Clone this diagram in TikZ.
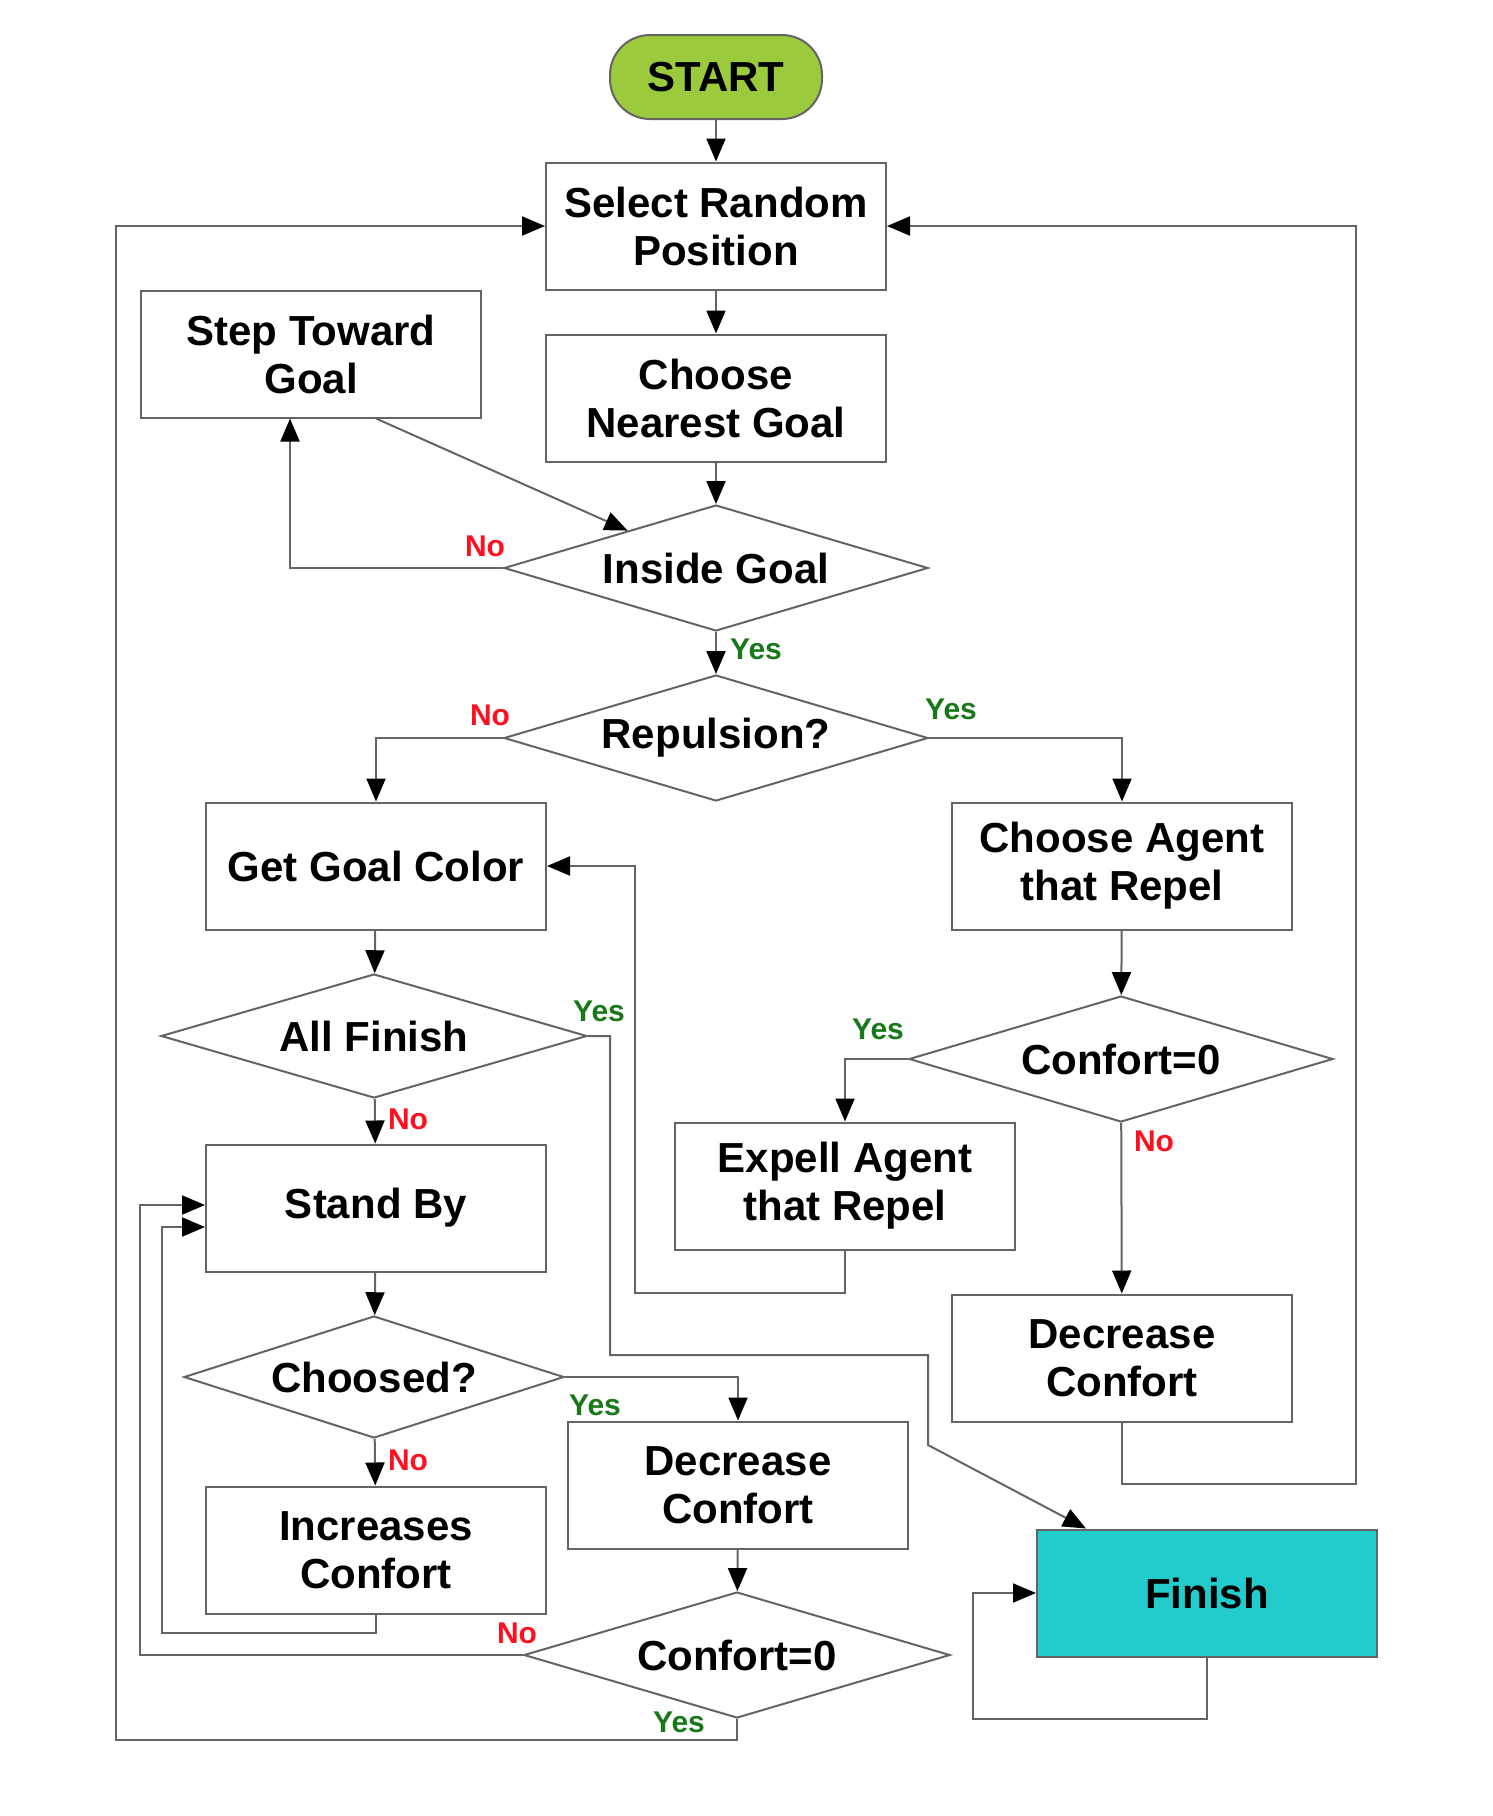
\documentclass[tikz,border=0pt]{standalone}
\usepackage{fontspec}
\setmainfont{Liberation Sans}
\usetikzlibrary{shapes.geometric,arrows.meta,calc}
\definecolor{linegray}{RGB}{100,100,100}
\definecolor{startgreen}{RGB}{155,203,60}
\definecolor{finishcyan}{RGB}{34,204,204}
\definecolor{yesgreen}{RGB}{25,120,25}
\definecolor{nored}{RGB}{255,16,32}
\begin{document}
\begin{tikzpicture}[x=1pt,y=-1pt,
  line width=2pt,
  txt/.style={font=\fontsize{42}{48}\selectfont\bfseries, align=center},
  box/.style={txt, draw=linegray, fill=white, minimum width=340pt, minimum height=127pt, inner sep=0pt},
  dia/.style={txt, draw=linegray, fill=white, diamond, aspect=3.37, inner sep=0pt},
  conn/.style={draw=linegray, -{Triangle[length=23pt,width=19pt,color=black]}},
  yeslbl/.style={text=yesgreen, font=\fontsize{30}{30}\selectfont\bfseries, inner sep=0pt},
  nolbl/.style={text=nored, font=\fontsize{30}{30}\selectfont\bfseries, inner sep=0pt}]
\useasboundingbox (0,0) rectangle (1492,1816);

% nodes
\node[txt, draw=linegray, fill=startgreen, rounded corners=40pt, minimum width=212pt, minimum height=84pt, inner sep=0pt] (start) at (716,77) {START};
\node[box] (sel) at (716,226) {Select Random\\Position};
\node[box] (cng) at (716,398) {Choose\\Nearest Goal};
\node[box] (step) at (311,354) {Step Toward\\Goal};
\node[dia, minimum width=424pt, minimum height=126pt] (inside) at (716,568) {Inside Goal};
\node[dia, minimum width=424pt, minimum height=126pt] (rep) at (716,738) {Repulsion?};
\node[box] (ggc) at (376,866) {Get Goal Color};
\node[box] (cagent) at (1122,866) {Choose Agent\\that Repel};
\node[dia, minimum width=426pt, minimum height=124pt] (allf) at (374,1036) {All Finish};
\node[dia, minimum width=424pt, minimum height=126pt] (conf1) at (1121,1059) {Confort=0};
\node[box] (expell) at (845,1186) {Expell Agent\\that Repel};
\node[box] (decR) at (1122,1358) {Decrease\\Confort};
\node[box] (stand) at (376,1208) {Stand By};
\node[dia, minimum width=380pt, minimum height=122pt] (chs) at (374,1377) {Choosed?};
\node[box] (incr) at (376,1550) {Increases\\Confort};
\node[box] (decM) at (738,1485) {Decrease\\Confort};
\node[dia, minimum width=426pt, minimum height=126pt] (conf2) at (737,1655) {Confort=0};
\node[box, fill=finishcyan] (finish) at (1207,1593) {Finish};

% corner coordinates
\coordinate (e1) at (635,1293);
\coordinate (r1) at (1356,1484);
\coordinate (a1) at (610,1355);
\coordinate (a2) at (928,1445);
\coordinate (f1) at (973,1719);
\coordinate (i1) at (162,1633);
\coordinate (c1) at (140,1205);
\coordinate (y1) at (116,1740);

% connectors
\draw[conn] (start) -- (sel);
\draw[conn] (sel) -- (cng);
\draw[conn] (cng) -- (inside);
\draw[conn] ([xshift=65pt]step.south) -- ($(inside.west)!0.585!(inside.north)$);
\draw[conn] (inside.west) -| ([xshift=-21pt]step.south);
\draw[conn] (inside) -- (rep);
\draw[conn] (rep.west) -| (ggc.north);
\draw[conn] (rep.east) -| (cagent.north);
\draw[conn] (ggc) -- (allf);
\draw[conn] (cagent) -- (conf1);
\draw[conn] (conf1.west) -| (expell.north);
\draw[conn] (conf1) -- (decR);
\draw[conn] (expell.south) |- (e1) |- (ggc.east);
\draw[conn] (decR.south) |- (r1) |- (sel.east);
\draw[conn] (allf.east) -| (a1) -| (a2) -- ($(finish.north west)+(50,0)$);
\draw[conn] (finish.south) |- (f1) |- (finish.west);
\draw[conn] (allf) -- (stand);
\draw[conn] (stand) -- (chs);
\draw[conn] (chs.east) -| (decM.north);
\draw[conn] (chs) -- (incr);
\draw[conn] (incr.south) |- (i1) |- ([yshift=-19pt]stand.west);
\draw[conn] (decM) -- (conf2);
\draw[conn] (conf2.west) -| (c1) -- (stand.west |- c1);
\draw[conn] (conf2.south) |- (y1) |- (sel.west);

% labels
\node[nolbl] (l1) at (485,546) {No};
\node[yeslbl] (l2) at (756,649) {Yes};
\node[nolbl] (l3) at (490,715) {No};
\node[yeslbl] (l4) at (951,709) {Yes};
\node[yeslbl] (l5) at (599,1011) {Yes};
\node[yeslbl] (l6) at (878,1029) {Yes};
\node[nolbl] (l7) at (408,1119) {No};
\node[nolbl] (l8) at (1154,1141) {No};
\node[yeslbl] (l9) at (595,1405) {Yes};
\node[nolbl] (l10) at (408,1460) {No};
\node[nolbl] (l11) at (517,1633) {No};
\node[yeslbl] (l12) at (679,1722) {Yes};
\end{tikzpicture}
\end{document}
